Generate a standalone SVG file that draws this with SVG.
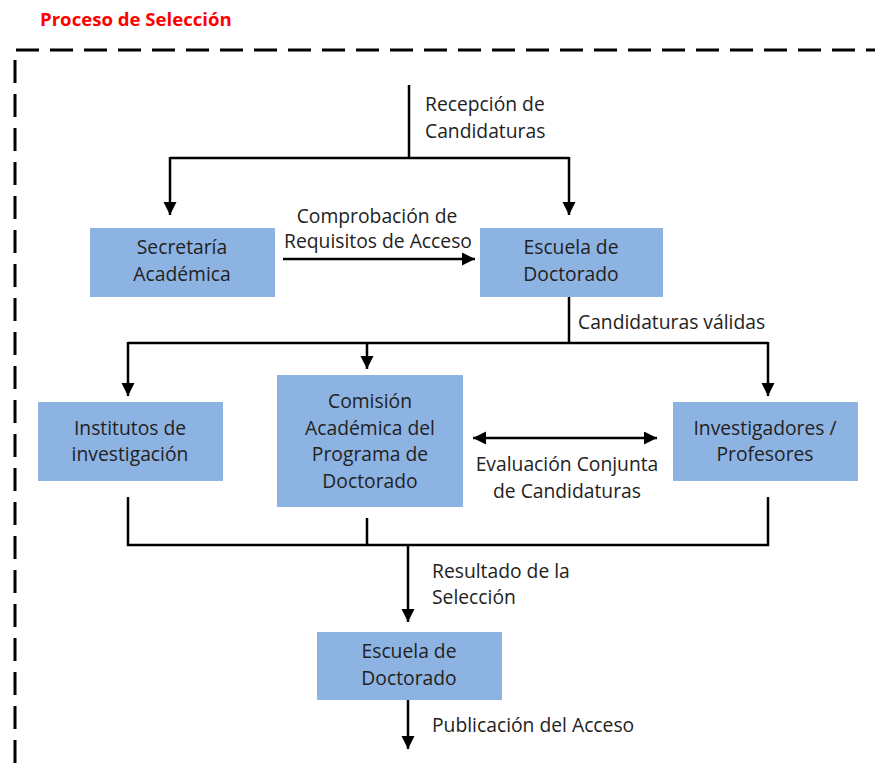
<svg xmlns="http://www.w3.org/2000/svg" width="875" height="767" viewBox="0 0 875 767">
<style>
.box{fill:#8db3e2;}
.t{font-family:"Open Sans","Noto Sans",sans-serif;font-size:19.3px;fill:#222;}
.c{text-anchor:middle;}
.ln{stroke:#000;stroke-width:2.5;fill:none;}
.ar{marker-end:url(#ah);}
</style>
<defs>
<marker id="ah" markerUnits="userSpaceOnUse" markerWidth="14" markerHeight="14" refX="13" refY="6.5" orient="auto-start-reverse">
<path d="M0,0 L13,6.5 L0,13 z" fill="#000"/>
</marker>
</defs>
<rect width="875" height="767" fill="#fff"/>
<text x="40" y="26" font-family="'Open Sans','Noto Sans',sans-serif" font-size="18.6" font-weight="bold" fill="#ff0000">Proceso de Selección</text>
<path d="M15,767 L15,50 L875,50" fill="none" stroke="#000" stroke-width="3" stroke-dasharray="23,11" stroke-dashoffset="-4"/>

<g id="connectors">
<path class="ln" d="M409,85 L409,158"/>
<path class="ln" d="M170,158 L569,158"/>
<path class="ln ar" d="M170,157 L170,215"/>
<path class="ln ar" d="M569,157 L569,215"/>
<path class="ln ar" d="M283,259 L475,259"/>
<path class="ln" d="M569,296 L569,343"/>
<path class="ln" d="M128,343 L768,343"/>
<path class="ln ar" d="M128,342 L128,396"/>
<path class="ln ar" d="M367,343 L367,369"/>
<path class="ln ar" d="M768,342 L768,396"/>
<path class="ln ar" d="M473,438 L657,438" marker-start="url(#ah)"/>
<path class="ln" d="M128,497 L128,545 L768,545 L768,497"/>
<path class="ln" d="M367,518 L367,545"/>
<path class="ln ar" d="M408,545 L408,622"/>
<path class="ln ar" d="M408,700 L408,749"/>
<text class="t" x="425" y="111">Recepción de</text>
<text class="t" x="425" y="138">Candidaturas</text>
<text class="t c" x="377" y="223">Comprobación de</text>
<text class="t c" x="378" y="248">Requisitos de Acceso</text>
<text class="t" x="578" y="329">Candidaturas válidas</text>
<text class="t c" x="567" y="471">Evaluación Conjunta</text>
<text class="t c" x="567" y="498">de Candidaturas</text>
<text class="t" x="432" y="578">Resultado de la</text>
<text class="t" x="432" y="604">Selección</text>
<text class="t" x="432" y="732">Publicación del Acceso</text>
</g>

<g id="secretaria">
<rect class="box" x="90" y="228" width="185" height="69"/>
<text class="t c" x="182" y="254">Secretaría</text>
<text class="t c" x="182" y="281">Académica</text>
</g>
<g id="escuela1">
<rect class="box" x="480" y="228" width="183" height="69"/>
<text class="t c" x="571" y="254">Escuela de</text>
<text class="t c" x="571" y="281">Doctorado</text>
</g>
<g id="institutos">
<rect class="box" x="38" y="402" width="185" height="79"/>
<text class="t c" x="130" y="435">Institutos de</text>
<text class="t c" x="130" y="461">investigación</text>
</g>
<g id="comision">
<rect class="box" x="277" y="375" width="186" height="132"/>
<text class="t c" x="370" y="408">Comisión</text>
<text class="t c" x="370" y="435">Académica del</text>
<text class="t c" x="370" y="461">Programa de</text>
<text class="t c" x="370" y="488">Doctorado</text>
</g>
<g id="investigadores">
<rect class="box" x="673" y="402" width="185" height="79"/>
<text class="t c" x="765" y="435">Investigadores /</text>
<text class="t c" x="765" y="461">Profesores</text>
</g>
<g id="escuela2">
<rect class="box" x="317" y="632" width="185" height="68"/>
<text class="t c" x="409" y="658">Escuela de</text>
<text class="t c" x="409" y="685">Doctorado</text>
</g>
</svg>
